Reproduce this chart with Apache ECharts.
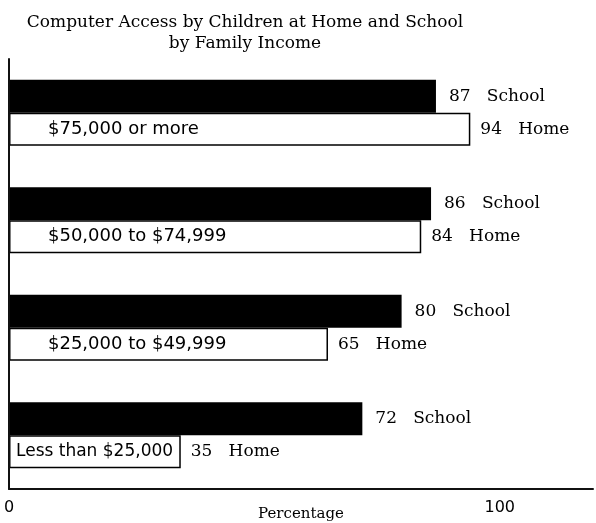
<!DOCTYPE html>
<html>
<head>
<meta charset="utf-8">
<script src="https://cdn.jsdelivr.net/npm/echarts@6/dist/echarts.min.js"></script>
<style>
  html, body { margin: 0; padding: 0; background: #fff; }
  #chart { width: 596px; height: 523px; }
</style>
</head>
<body>
<div id="chart"></div>
<script>
// ===== data =====
const incomeGroups = ['$75,000 or more', '$50,000 to $74,999', '$25,000 to $49,999', 'Less than $25,000']
const schoolValues = [87, 86, 80, 72]
const homeValues = [94, 84, 65, 35]
const axisTicks = [0, 100]

const serif = 'DejaVu Serif'
const sans = 'DejaVu Sans'

const chart = echarts.init(document.getElementById('chart'))

chart.setOption({
  animation: false,
  backgroundColor: '#fff',
  title: {
    text: 'Computer Access by Children at Home and School',
    subtext: 'by Family Income',
    left: 240,
    top: 9,
    textAlign: 'center',
    itemGap: 4,
    textStyle: { fontFamily: serif, fontSize: 17, fontWeight: 'normal', color: '#000' },
    subtextStyle: { fontFamily: serif, fontSize: 17, color: '#000' }
  },
  grid: { left: 9, right: 3, top: 59, bottom: 34, outerBoundsMode: 'none' },
  xAxis: {
    type: 'value',
    min: 0,
    max: 119,
    interval: 100,
    splitLine: { show: false },
    axisTick: { show: false },
    axisLine: { show: true, lineStyle: { color: '#111', width: 2 } },
    axisLabel: {
      customValues: axisTicks,
      margin: 11,
      fontFamily: sans,
      fontSize: 16,
      color: '#000'
    },
    name: 'Percentage',
    nameLocation: 'middle',
    nameGap: 18,
    nameMoveOverlap: false,
    nameTextStyle: { fontFamily: serif, fontSize: 15, color: '#000' }
  },
  yAxis: {
    type: 'category',
    inverse: true,
    data: incomeGroups,
    axisTick: { show: false },
    splitLine: { show: false },
    axisLine: { show: true, lineStyle: { color: '#111', width: 2 } },
    axisLabel: {
      inside: true,
      margin: 6,
      padding: [33, 0, 0, 0],
      fontFamily: sans,
      fontSize: 18,
      color: '#000',
      formatter(value, idx) {
        // the last box is too short, so its text sits right on the axis
        return idx === incomeGroups.length - 1 ? '{s|' + value + '}' : '{n|' + value + '}'
      },
      rich: {
        n: { fontFamily: sans, fontSize: 18, color: '#000', padding: [0, 0, 0, 33] },
        s: { fontFamily: sans, fontSize: 17, color: '#000', padding: [0, 0, 0, 1] }
      }
    },
    z: 10
  },
  series: [
    {
      name: 'School',
      type: 'bar',
      data: schoolValues,
      barWidth: 33,
      barGap: '0%',
      itemStyle: { color: '#000' },
      label: {
        show: true,
        position: 'right',
        distance: 13,
        fontFamily: serif,
        fontSize: 17,
        color: '#000',
        formatter: p => p.value + '   School'
      }
    },
    {
      name: 'Home',
      type: 'bar',
      data: homeValues,
      barWidth: 33,
      barGap: '0%',
      itemStyle: { color: '#fff', borderColor: '#000', borderWidth: 1.5 },
      label: {
        show: true,
        position: 'right',
        distance: 10,
        fontFamily: serif,
        fontSize: 17,
        color: '#000',
        formatter: p => p.value + '   Home'
      }
    }
  ]
})
</script>
</body>
</html>
